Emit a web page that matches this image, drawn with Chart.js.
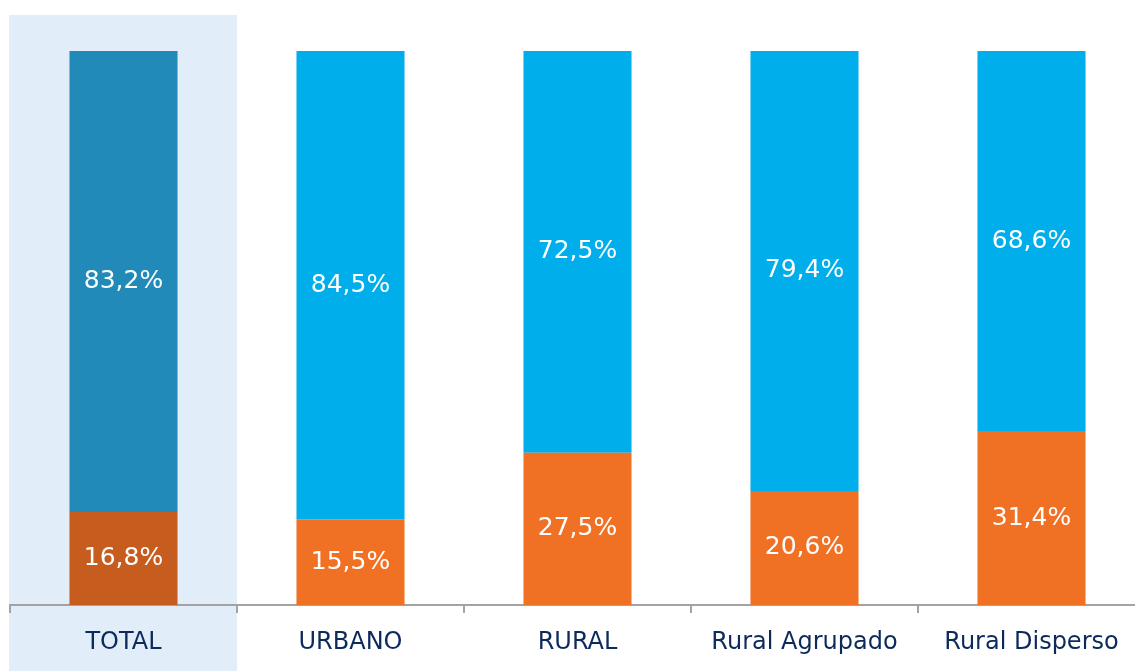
<!DOCTYPE html>
<html>
<head>
<meta charset="utf-8">
<script src="https://cdn.jsdelivr.net/npm/chart.js@4.4.1/dist/chart.umd.min.js"></script>
<style>
    html, body { margin: 0; padding: 0; background: #ffffff; overflow: hidden; }
    #wrap { position: relative; width: 1145px; height: 671px; }
</style>
</head>
<body>
<div id="wrap"><canvas id="chart"></canvas></div>
<script>
/* Stacked 100% bars: share per area */

const categories = ["TOTAL", "URBANO", "RURAL", "Rural Agrupado", "Rural Disperso"];
const lowerValues = [16.8, 15.5, 27.5, 20.6, 31.4];
const upperValues = [83.2, 84.5, 72.5, 79.4, 68.6];

const upperColors = ["#228ab8", "#00aeeb", "#00aeeb", "#00aeeb", "#00aeeb"];
const lowerColors = ["#c65c1e", "#f07124", "#f07124", "#f07124", "#f07124"];
const FONT = "'DejaVu Sans'";

const highlightPlugin = {
    id: "highlight",
    beforeDraw(chart) {
        const { ctx, chartArea, scales } = chart;
        const x = scales.x;
        const half = (x.getPixelForValue(1) - x.getPixelForValue(0)) / 2;
        const cx = x.getPixelForValue(0);
        ctx.save();
        ctx.fillStyle = "#e1edf8";
        ctx.fillRect(cx - half - 1, chartArea.top - 36, half * 2 + 1, chart.height);
        ctx.restore();
    }
};

const valueLabels = {
    id: "valueLabels",
    afterDatasetsDraw(chart) {
        const { ctx } = chart;
        ctx.save();
        ctx.fillStyle = "#ffffff";
        ctx.font = "25px " + FONT;
        ctx.textAlign = "center";
        ctx.textBaseline = "middle";
        chart.data.datasets.forEach((ds, di) => {
            chart.getDatasetMeta(di).data.forEach((bar, i) => {
                const mid = (bar.y + bar.base) / 2;
                ctx.fillText(ds.data[i].toFixed(1).replace(".", ",") + "%", bar.x, mid);
            });
        });
        ctx.restore();
    }
};

new Chart(document.getElementById("chart"), {
    type: "bar",
    data: {
        labels: categories,
        datasets: [
            { label: "lower", data: lowerValues, backgroundColor: lowerColors, borderWidth: 0 },
            { label: "upper", data: upperValues, backgroundColor: upperColors, borderWidth: 0 }
        ]
    },
    options: {
        responsive: true,
        maintainAspectRatio: false,
        animation: false,
        layout: { padding: { left: 10, right: 0, top: 51, bottom: 0 } },
        datasets: { bar: { categoryPercentage: 1, barPercentage: 0.476 } },
        plugins: { legend: { display: false }, tooltip: { enabled: false } },
        scales: {
            x: {
                stacked: true,
                grid: { drawOnChartArea: false, offset: true, color: "#a3a3a5", lineWidth: 2, tickLength: 8 },
                border: { color: "#a3a3a5", width: 2 },
                ticks: { color: "#0d2a5c", font: { family: FONT, size: 24 }, padding: 15 },
                afterFit(scale) { scale.height = 66; }
            },
            y: {
                stacked: true,
                display: false,
                min: 0,
                max: 100
            }
        }
    },
    plugins: [highlightPlugin, valueLabels]
});
</script>
</body>
</html>
